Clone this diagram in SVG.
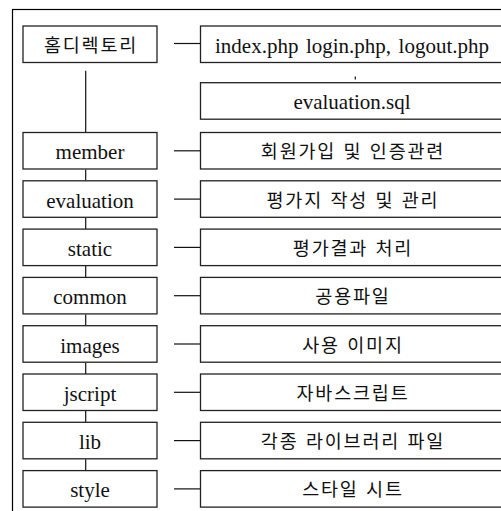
<svg xmlns="http://www.w3.org/2000/svg" width="501" height="511" viewBox="0 0 501 511">
<style>
.bg{fill:#fff}
.frame{fill:none;stroke:#000;stroke-width:1.2}
.box{fill:#fff;stroke:#222;stroke-width:1.3}
.ln{stroke:#111;stroke-width:1.2;fill:none}
.t{font-family:'Liberation Serif','Times New Roman',serif;font-size:21px;fill:#111;text-anchor:middle}
.k{font-family:'Noto Sans CJK KR',sans-serif;font-size:18.5px;fill:#111;text-anchor:middle;letter-spacing:1.8px;word-spacing:1.5px}
</style>
<rect class="bg" x="0" y="0" width="501" height="511"/>
<rect class="frame" x="12.5" y="9.5" width="510" height="520"/>
<g id="connectors">
<line class="ln" x1="85.7" y1="70.7" x2="85.7" y2="132"/>
<line class="ln" x1="85.7" y1="169.5" x2="85.7" y2="180.8"/>
<line class="ln" x1="85.7" y1="217.8" x2="85.7" y2="229.1"/>
<line class="ln" x1="85.7" y1="266.1" x2="85.7" y2="277.4"/>
<line class="ln" x1="85.7" y1="314.4" x2="85.7" y2="325.7"/>
<line class="ln" x1="85.7" y1="362.7" x2="85.7" y2="374"/>
<line class="ln" x1="85.7" y1="411" x2="85.7" y2="422.3"/>
<line class="ln" x1="85.7" y1="459.3" x2="85.7" y2="470.6"/>
<line class="ln" x1="355.3" y1="76.5" x2="355.3" y2="79.5"/>
<line class="ln" x1="174" y1="43.5" x2="200" y2="43.5"/>
<line class="ln" x1="174" y1="150.8" x2="200" y2="150.8"/>
<line class="ln" x1="174" y1="199.1" x2="200" y2="199.1"/>
<line class="ln" x1="174" y1="247.4" x2="200" y2="247.4"/>
<line class="ln" x1="174" y1="295.7" x2="200" y2="295.7"/>
<line class="ln" x1="174" y1="344" x2="200" y2="344"/>
<line class="ln" x1="174" y1="392.3" x2="200" y2="392.3"/>
<line class="ln" x1="174" y1="440.6" x2="200" y2="440.6"/>
<line class="ln" x1="174" y1="488.9" x2="200" y2="488.9"/>
</g>
<g id="home"><rect class="box" x="23" y="26" width="134" height="36.5"/><text class="k" x="91" y="51.5">홈디렉토리</text></g>
<g id="index"><rect class="box" x="200.5" y="26" width="304" height="36.5"/><text class="t" x="352" y="52.5" xml:space="preserve" word-spacing="-1.5">index.php  login.php,  logout.php</text></g>
<g id="sql"><rect class="box" x="200.5" y="82.7" width="304" height="36.5"/><text class="t" x="352" y="109.3">evaluation.sql</text></g>
<g id="member"><rect class="box" x="23" y="132.5" width="134" height="36.5"/><text class="t" x="90" y="159.3">member</text></g>
<g id="member-desc"><rect class="box" x="200.5" y="132.5" width="304" height="36.5"/><text class="k" x="353" y="158.3">회원가입 및 인증관련</text></g>
<g id="evaluation"><rect class="box" x="23" y="180.8" width="134" height="36.5"/><text class="t" x="90" y="207.6">evaluation</text></g>
<g id="evaluation-desc"><rect class="box" x="200.5" y="180.8" width="304" height="36.5"/><text class="k" x="353" y="206.6">평가지 작성 및 관리</text></g>
<g id="static"><rect class="box" x="23" y="229.1" width="134" height="36.5"/><text class="t" x="90" y="255.9">static</text></g>
<g id="static-desc"><rect class="box" x="200.5" y="229.1" width="304" height="36.5"/><text class="k" x="353" y="254.9">평가결과 처리</text></g>
<g id="common"><rect class="box" x="23" y="277.4" width="134" height="36.5"/><text class="t" x="90" y="304.2">common</text></g>
<g id="common-desc"><rect class="box" x="200.5" y="277.4" width="304" height="36.5"/><text class="k" x="353" y="303.2">공용파일</text></g>
<g id="images"><rect class="box" x="23" y="325.7" width="134" height="36.5"/><text class="t" x="90" y="352.5">images</text></g>
<g id="images-desc"><rect class="box" x="200.5" y="325.7" width="304" height="36.5"/><text class="k" x="353" y="351.5">사용 이미지</text></g>
<g id="jscript"><rect class="box" x="23" y="374" width="134" height="36.5"/><text class="t" x="90" y="400.8">jscript</text></g>
<g id="jscript-desc"><rect class="box" x="200.5" y="374" width="304" height="36.5"/><text class="k" x="353" y="399.8">자바스크립트</text></g>
<g id="lib"><rect class="box" x="23" y="422.3" width="134" height="36.5"/><text class="t" x="90" y="449.1">lib</text></g>
<g id="lib-desc"><rect class="box" x="200.5" y="422.3" width="304" height="36.5"/><text class="k" x="353" y="448.1">각종 라이브러리 파일</text></g>
<g id="style"><rect class="box" x="23" y="470.6" width="134" height="36.5"/><text class="t" x="90" y="497.4">style</text></g>
<g id="style-desc"><rect class="box" x="200.5" y="470.6" width="304" height="36.5"/><text class="k" x="353" y="496.4">스타일 시트</text></g>
</svg>
